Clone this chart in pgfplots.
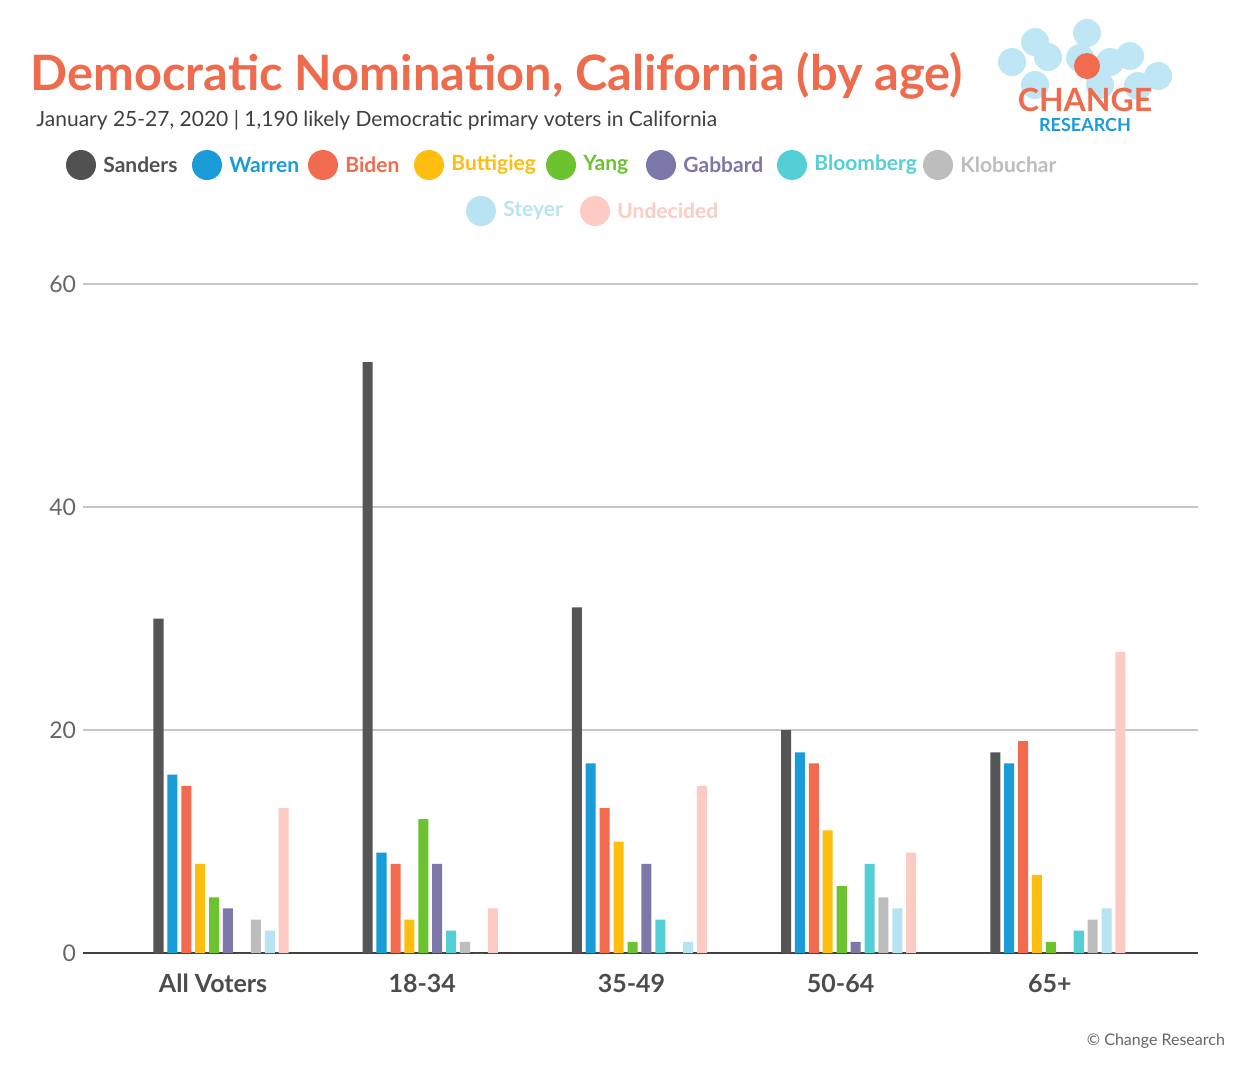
\documentclass[border=0pt]{standalone}
\usepackage{pgfplots}
\pgfplotsset{compat=1.18}
\usepackage{fontspec}
\setmainfont{Lato}
\definecolor{cSan}{HTML}{555555}
\definecolor{cWar}{HTML}{1A9CD8}
\definecolor{cBid}{HTML}{F26B4F}
\definecolor{cBut}{HTML}{FDBE10}
\definecolor{cYan}{HTML}{6CC22F}
\definecolor{cGab}{HTML}{7B77A8}
\definecolor{cBlo}{HTML}{55CFD6}
\definecolor{cKlo}{HTML}{BDBDBD}
\definecolor{cSte}{HTML}{B8E3F3}
\definecolor{cUnd}{HTML}{FCCCC4}
\definecolor{ttl}{HTML}{EE6B4D}
\newcommand{\leg}[4]{\fill[#2] (#1,#4) circle (15); \node[anchor=west,text=#2,font=\bfseries\fontsize{10.5}{12}\selectfont,inner sep=0pt] at (#1+22,#4) {#3};}
\begin{document}
\begin{tikzpicture}[x=0.5pt,y=-0.5pt]
\path[fill=white] (0,0) rectangle (1250,1067);
\begin{axis}[at={(41.5pt,-476.5pt)},anchor=south west,scale only axis,
 width=557.5pt,height=334.5pt,ymin=0,ymax=60,xmin=-0.66,xmax=4.67,
 ytick={0,20,40,60},axis x line*=bottom,axis y line*=left,
 y axis line style={draw=none},
 ymajorgrids,grid style={gray!45,line width=0.8pt},
 x axis line style={black!75,line width=1pt,-},
 xtick={0,1,2,3,4},xticklabels={All Voters,18-34,35-49,50-64,65+},
 major tick length=0pt,
 xticklabel style={font=\bfseries\fontsize{12.5}{14}\selectfont,text=black!70,yshift=-7pt,xshift=-4pt},
 yticklabel style={font=\fontsize{11.5}{13}\selectfont,text=black!60},
 /pgf/number format/assume math mode=true,
 bar width=0.048,ybar,draw=none,
 clip=false]
\addplot[fill=cSan,draw=none,bar shift=-0.299] coordinates {(0,30)(1,53)(2,31)(3,20)(4,18)};
\addplot[fill=cWar,draw=none,bar shift=-0.233] coordinates {(0,16)(1,9)(2,17)(3,18)(4,17)};
\addplot[fill=cBid,draw=none,bar shift=-0.166] coordinates {(0,15)(1,8)(2,13)(3,17)(4,19)};
\addplot[fill=cBut,draw=none,bar shift=-0.100] coordinates {(0,8)(1,3)(2,10)(3,11)(4,7)};
\addplot[fill=cYan,draw=none,bar shift=-0.033] coordinates {(0,5)(1,12)(2,1)(3,6)(4,1)};
\addplot[fill=cGab,draw=none,bar shift=0.033] coordinates {(0,4)(1,8)(2,8)(3,1)(4,0)};
\addplot[fill=cBlo,draw=none,bar shift=0.100] coordinates {(0,0)(1,2)(2,3)(3,8)(4,2)};
\addplot[fill=cKlo,draw=none,bar shift=0.166] coordinates {(0,3)(1,1)(2,0)(3,5)(4,3)};
\addplot[fill=cSte,draw=none,bar shift=0.233] coordinates {(0,2)(1,0)(2,1)(3,4)(4,4)};
\addplot[fill=cUnd,draw=none,bar shift=0.299] coordinates {(0,13)(1,4)(2,15)(3,9)(4,27)};
\end{axis}
\node[anchor=base west,text=ttl,font=\bfseries\fontsize{24.4}{28}\selectfont,inner sep=0pt] at (30,90) {Democratic Nomination, California (by age)};
\node[anchor=base west,text=black!75,font=\fontsize{10.5}{12}\selectfont,inner sep=0pt] at (36,126) {January 25-27, 2020 | 1,190 likely Democratic primary voters in California};
\leg{81}{cSan!95!black}{Sanders}{165}
\leg{207}{cWar}{Warren}{165}
\leg{323}{cBid}{Biden}{165}
\leg{429}{cBut}{Buttigieg}{165}
\leg{561}{cYan}{Yang}{165}
\leg{661}{cGab}{Gabbard}{165}
\leg{792}{cBlo}{Bloomberg}{165}
\leg{938}{cKlo}{Klobuchar}{165}
\leg{481}{cSte}{Steyer}{211}
\leg{595}{cUnd}{Undecided}{211}
\foreach \a/\b in {1012/62,1035/42,1048/57,1087/33,1080/58,1110/62,1130/56,1158/76,1138/86,1035/85,1100/85}{\fill[cSte!90] (\a,\b) circle (14);}
\fill[cBid] (1087,66) circle (13);
\node[text=ttl,font=\bfseries\fontsize{16}{18}\selectfont] at (1085,100) {CHANGE};
\node[text=cWar,font=\bfseries\fontsize{9}{10}\selectfont] at (1085,125) {RESEARCH};
\node[anchor=east,text=black!60,font=\fontsize{8}{9}\selectfont] at (1232,1041) {© Change Research};
\end{tikzpicture}
\end{document}
